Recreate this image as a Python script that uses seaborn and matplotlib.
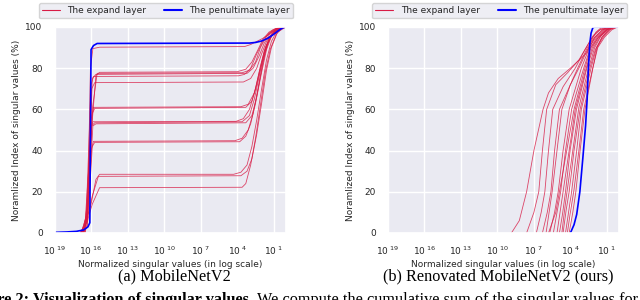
import matplotlib
matplotlib.use("Agg")
import matplotlib.pyplot as plt
import seaborn as sns
from matplotlib.lines import Line2D

# ---------------- data (x given as log10 of normalized singular value, y in %) ----------------
# (a) MobileNetV2 : penultimate layer
a_pen_x = [-19, -18, -17.2, -16.6, -16.25, -16.1, -16.05, -16.0, -15.8, -15.5, -3.0, -2.5, -2.0, -1.5, -1.0, -0.5, -0.2, 0]
a_pen_y = [0.3, 0.5, 0.8, 1.5, 3, 5, 50, 89, 91, 92, 92.2, 92.5, 93.2, 94.5, 96.5, 98.8, 99.8, 100]

# (a) MobileNetV2 : expand layers
a_exp01_x = [-16.8, -16.3, -16.05, -15.85, -15.3, -3.4, -2.9, -2.4, -1.9, -1.4, -0.9, -0.4, 0]
a_exp01_y = [0, 3, 80, 89.5, 90.2, 90.5, 91.5, 93, 94.5, 96.5, 98.5, 99.6, 100]
a_exp02_x = [-16.9, -16.5, -16.1, -15.6, -15.3, -4.0, -3.3, -2.8, -2.3, -1.9, -1.4, -0.9, -0.4, 0]
a_exp02_y = [0, 4, 40, 76.5, 78, 78.3, 79.5, 83, 89, 94, 97.5, 99.2, 99.8, 100]
a_exp03_x = [-16.7, -16.3, -15.9, -15.5, -3.6, -3.0, -2.5, -2.1, -1.6, -1.1, -0.5, 0]
a_exp03_y = [0, 6, 60, 77.5, 77.8, 79, 83, 90, 95.5, 98.5, 99.7, 100]
a_exp04_x = [-16.6, -16.2, -15.9, -15.6, -3.2, -2.7, -2.2, -1.8, -1.3, -0.7, 0]
a_exp04_y = [0, 20, 75, 77, 77.5, 80, 86, 92, 97, 99.5, 100]
a_exp05_x = [-16.8, -16.4, -16.0, -15.8, -3.9, -3.4, -2.9, -2.4, -1.9, -1.4, -0.8, 0]
a_exp05_y = [0, 8, 72, 76, 76.3, 77, 80, 87, 93, 97, 99.3, 100]
a_exp06_x = [-16.7, -16.3, -15.95, -15.7, -3.5, -2.9, -2.4, -2.0, -1.6, -1.1, -0.5, 0]
a_exp06_y = [0, 10, 70, 73, 73.3, 75, 80, 87, 93, 97.5, 99.5, 100]
a_exp07_x = [-16.8, -16.3, -16.0, -15.8, -3.7, -3.1, -2.6, -2.2, -1.8, -1.4, -0.9, -0.3, 0]
a_exp07_y = [0, 10, 55, 61, 61.3, 62.5, 68, 78, 88, 94.5, 98.5, 99.8, 100]
a_exp08_x = [-16.6, -16.2, -15.9, -15.7, -3.3, -2.8, -2.4, -2.0, -1.6, -1.1, -0.5, 0]
a_exp08_y = [0, 15, 58, 60.5, 61, 64, 72, 82, 91, 96.5, 99.5, 100]
a_exp09_x = [-16.9, -16.4, -16.05, -15.85, -4.1, -3.5, -3.0, -2.5, -2.1, -1.7, -1.2, -0.6, 0]
a_exp09_y = [0, 5, 50, 54, 54.2, 55.5, 60, 70, 81, 90, 96, 99.3, 100]
a_exp10_x = [-16.7, -16.3, -15.95, -15.7, -3.6, -3.0, -2.6, -2.2, -1.8, -1.4, -0.9, -0.3, 0]
a_exp10_y = [0, 8, 52, 53.5, 54, 57, 65, 76, 87, 94, 98, 99.8, 100]
a_exp11_x = [-16.5, -16.15, -15.85, -15.6, -3.3, -2.8, -2.4, -2.0, -1.6, -1.2, -0.6, 0]
a_exp11_y = [0, 20, 52, 53, 53.5, 57, 66, 78, 89, 95.5, 99.3, 100]
a_exp12_x = [-16.8, -16.3, -16.0, -15.8, -4.2, -3.6, -3.1, -2.7, -2.3, -1.9, -1.5, -1.0, -0.4, 0]
a_exp12_y = [0, 6, 40, 44.5, 44.8, 46, 50, 58, 70, 83, 92, 97.5, 99.7, 100]
a_exp13_x = [-16.6, -16.2, -15.9, -15.7, -3.8, -3.3, -2.9, -2.5, -2.1, -1.7, -1.3, -0.7, 0]
a_exp13_y = [0, 12, 42, 44, 44.3, 47, 53, 63, 76, 88, 95, 99.2, 100]
a_exp14_x = [-16.7, -16.3, -16.0, -15.6, -15.3, -4.3, -3.7, -3.2, -2.8, -2.4, -2.0, -1.6, -1.2, -0.7, 0]
a_exp14_y = [0, 8, 14, 26, 28.5, 28.5, 29.5, 33, 42, 55, 70, 84, 93, 98.5, 100]
a_exp15_x = [-16.6, -16.2, -15.9, -15.4, -3.7, -3.2, -2.8, -2.4, -2.0, -1.6, -1.2, -0.7, 0]
a_exp15_y = [0, 10, 18, 27.5, 27.8, 30, 36, 48, 63, 79, 90, 97.5, 100]
a_exp16_x = [-16.5, -16.2, -15.9, -15.3, -3.6, -3.3, -2.9, -2.5, -2.1, -1.7, -1.3, -0.8, -0.3, 0]
a_exp16_y = [0, 8, 14, 22, 22.2, 24, 33, 46, 62, 78, 89, 96.5, 99.5, 100]

# (b) Renovated MobileNetV2 : penultimate layer
b_pen_x = [-4.0, -3.7, -3.48, -3.22, -2.98, -2.75, -2.62, -2.52, -2.4, -2.3, -2.15, -2.0, 0]
b_pen_y = [0, 4, 9, 20, 36, 52, 65, 80, 92, 97, 99.7, 100, 100]

# (b) Renovated MobileNetV2 : expand layers
b_exp01_x = [-8.85, -8.2, -7.6, -7.0, -6.25, -5.8, -5.0, -4.0, -3.0, -2.65, -2.3, -1.9, -1.5, -1.0, 0]
b_exp01_y = [0, 6, 20, 40, 60, 68, 75, 80, 85.5, 87.5, 93, 97.5, 99.5, 100, 100]
b_exp02_x = [-7.6, -7.0, -6.6, -6.3, -5.95, -5.2, -4.2, -3.3, -2.6, -2.1, -1.5, -0.9, 0]
b_exp02_y = [0, 10, 20, 40, 60, 72, 78, 84, 91, 96, 99, 100, 100]
b_exp03_x = [-6.8, -6.4, -6.1, -5.8, -5.45, -4.6, -3.6, -2.8, -2.2, -1.6, -0.8, 0]
b_exp03_y = [0, 10, 20, 40, 60, 71, 80, 89, 95, 98.5, 100, 100]
b_exp04_x = [-6.0, -5.75, -5.5, -5.1, -4.7, -4.0, -3.3, -2.6, -1.9, -1.2, -0.6, 0]
b_exp04_y = [0, 10, 20, 40, 60, 72, 80, 89, 95, 98.8, 100, 100]
b_exp05_x = [-5.7, -5.3, -5.0, -4.6, -4.1, -3.1, -2.5, -2.0, -1.4, -0.9, 0]
b_exp05_y = [0, 10, 20, 40, 60, 80, 89, 95, 98.5, 100, 100]
b_exp06_x = [-5.4, -5.1, -4.8, -4.4, -3.9, -2.9, -2.35, -1.8, -1.1, -0.5, 0]
b_exp06_y = [0, 10, 20, 40, 60, 80, 90, 95, 98.8, 100, 100]
b_exp07_x = [-5.1, -4.85, -4.6, -4.1, -3.6, -2.7, -2.2, -1.7, -1.0, -0.4, 0]
b_exp07_y = [0, 10, 20, 40, 60, 80, 90, 95, 98.8, 100, 100]
b_exp08_x = [-4.9, -4.65, -4.4, -4.0, -3.5, -2.6, -2.1, -1.6, -0.9, -0.3, 0]
b_exp08_y = [0, 9, 20, 41, 60, 81, 90, 95, 99, 100, 100]
b_exp09_x = [-4.7, -4.5, -4.3, -3.8, -3.3, -2.5, -2.0, -1.5, -0.9, -0.4, 0]
b_exp09_y = [0, 10, 19, 40, 61, 80, 90, 95.5, 98.8, 100, 100]
b_exp10_x = [-4.6, -4.35, -4.1, -3.7, -3.2, -2.4, -1.95, -1.4, -0.8, -0.2, 0]
b_exp10_y = [0, 11, 20, 40, 60, 80, 89, 95, 98.7, 100, 100]
b_exp11_x = [-4.4, -4.15, -3.9, -3.5, -3.1, -2.3, -1.85, -1.3, -0.7, -0.2, 0]
b_exp11_y = [0, 10, 20, 39, 60, 80, 90, 95, 98.8, 100, 100]
b_exp12_x = [-4.25, -4.0, -3.7, -3.3, -2.9, -2.2, -1.75, -1.2, -0.6, -0.1, 0]
b_exp12_y = [0, 10, 21, 40, 60, 79, 90, 95, 98.6, 100, 100]
b_exp13_x = [-4.1, -3.8, -3.55, -3.2, -2.8, -2.15, -1.8, -1.4, -0.8, -0.3, 0]
b_exp13_y = [0, 10, 20, 40, 60, 80, 90, 95, 99, 100, 100]
b_exp14_x = [-5.8, -5.2, -4.9, -4.3, -3.7, -2.8, -2.3, -1.7, -1.0, -0.5, 0]
b_exp14_y = [0, 10, 20, 40, 60, 80, 90, 95, 98.8, 100, 100]
b_exp15_x = [-6.3, -5.9, -5.6, -5.3, -4.9, -3.4, -2.6, -2.0, -1.3, -0.7, 0]
b_exp15_y = [0, 10, 20, 40, 60, 80, 90, 95, 98.8, 100, 100]

xtick_exps = [-19, -16, -13, -10, -7, -4, -1]
xtick_labels = [r"$10^{\ 19}$", r"$10^{\ 16}$", r"$10^{\ 13}$", r"$10^{\ 10}$",
                r"$10^{\ 7}$", r"$10^{\ 4}$", r"$10^{\ 1}$"]
ytick_vals = [0, 20, 40, 60, 80, 100]
legend_labels = ["The expand layer", "The penultimate layer"]
xlabel_text = "Normalized singular values (in log scale)"
ylabel_text = "Noramlized Index of singular values (%)"
captions = ["(a) MobileNetV2", "(b) Renovated MobileNetV2 (ours)"]
fig_caption_prefix = "Figure 2:"
fig_caption_bold = "Visualization of singular values."
fig_caption_rest = "We compute the cumulative sum of the singular values for"

a_expand = [(a_exp01_x, a_exp01_y), (a_exp02_x, a_exp02_y), (a_exp03_x, a_exp03_y),
            (a_exp04_x, a_exp04_y), (a_exp05_x, a_exp05_y), (a_exp06_x, a_exp06_y),
            (a_exp07_x, a_exp07_y), (a_exp08_x, a_exp08_y), (a_exp09_x, a_exp09_y),
            (a_exp10_x, a_exp10_y), (a_exp11_x, a_exp11_y), (a_exp12_x, a_exp12_y),
            (a_exp13_x, a_exp13_y), (a_exp14_x, a_exp14_y), (a_exp15_x, a_exp15_y),
            (a_exp16_x, a_exp16_y)]
b_expand = [(b_exp01_x, b_exp01_y), (b_exp02_x, b_exp02_y), (b_exp03_x, b_exp03_y),
            (b_exp04_x, b_exp04_y), (b_exp05_x, b_exp05_y), (b_exp06_x, b_exp06_y),
            (b_exp07_x, b_exp07_y), (b_exp08_x, b_exp08_y), (b_exp09_x, b_exp09_y),
            (b_exp10_x, b_exp10_y), (b_exp11_x, b_exp11_y), (b_exp12_x, b_exp12_y),
            (b_exp13_x, b_exp13_y), (b_exp14_x, b_exp14_y), (b_exp15_x, b_exp15_y)]

# ---------------- style ----------------
sns.set_theme(style="darkgrid")
plt.rcParams["font.family"] = ["DejaVu Sans"]
RED = "#d81b45"
BLUE = "#0000ff"
FS = 6.5
CAP_FS = 11.7

W, H = 640, 300
fig = plt.figure(figsize=(6.4, 3.0), dpi=100)
ax1 = fig.add_axes([54.5 / W, 1 - 233 / H, 231.5 / W, 206 / H])
ax2 = fig.add_axes([388 / W, 1 - 233 / H, 231 / W, 206 / H])


def draw(ax, expand, pen_x, pen_y):
    for xs, ys in expand:
        sns.lineplot(x=[10.0 ** v for v in xs], y=ys, ax=ax, color=RED, linewidth=0.6,
                     alpha=0.8, estimator=None, sort=False, legend=False)
    sns.lineplot(x=[10.0 ** v for v in pen_x], y=pen_y, ax=ax, color=BLUE, linewidth=1.2,
                 estimator=None, sort=False, legend=False)
    ax.set_xscale("log")
    ax.set_xlim(1e-19, 1.0)
    ax.set_ylim(0, 100)
    ax.minorticks_off()
    ax.set_xticks([10.0 ** e for e in xtick_exps])
    ax.set_xticklabels(xtick_labels)
    ax.set_yticks(ytick_vals)
    ax.set_yticklabels([str(v) for v in ytick_vals])
    ax.tick_params(axis="both", labelsize=FS, pad=2.5, colors=".15")
    ax.set_xlabel(xlabel_text, fontsize=FS, labelpad=2, color=".15")
    ax.set_ylabel(ylabel_text, fontsize=FS, labelpad=3, color=".15")


draw(ax1, a_expand, a_pen_x, a_pen_y)
draw(ax2, b_expand, b_pen_x, b_pen_y)

handles = [Line2D([], [], color=RED, lw=0.8), Line2D([], [], color=BLUE, lw=1.5)]
for cx in (166, 499.5):
    fig.legend(handles, legend_labels, loc="upper center", ncol=2, fontsize=FS,
               bbox_to_anchor=(cx / W, 1.005), bbox_transform=fig.transFigure,
               borderpad=0.35, handlelength=2.0, columnspacing=2.0, frameon=True)

serif = ["Liberation Serif", "DejaVu Serif"]
fig.text(174 / W, 1 - 276 / H, captions[0], ha="center", va="center", fontsize=CAP_FS,
         family=serif, color="black")
fig.text(498 / W, 1 - 276 / H, captions[1], ha="center", va="center", fontsize=CAP_FS,
         family=serif, color="black")
base_y = 1 - 304 / H
fig.text(29 / W, base_y, fig_caption_prefix, ha="right", va="baseline", fontsize=CAP_FS,
         family=serif, weight="bold", color="black")
fig.text(33 / W, base_y, fig_caption_bold, ha="left", va="baseline", fontsize=CAP_FS,
         family=serif, weight="bold", color="black")
fig.text(257 / W, base_y, fig_caption_rest, ha="left", va="baseline", fontsize=CAP_FS,
         family=serif, color="black")

fig.savefig("out.png", dpi=100)
